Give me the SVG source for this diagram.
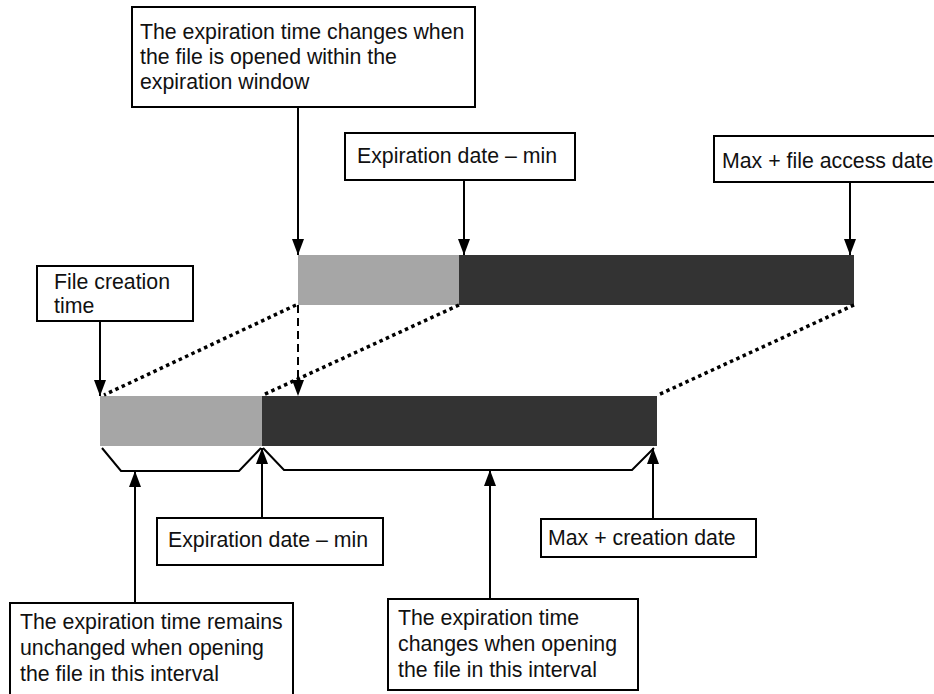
<svg xmlns="http://www.w3.org/2000/svg" width="934" height="694" viewBox="0 0 934 694">
<defs>
<marker id="ah" viewBox="0 0 16 12" refX="16" refY="6" markerWidth="16" markerHeight="12" markerUnits="userSpaceOnUse" orient="auto">
<path d="M0,0 L16,6 L0,12 Z" fill="#000"/>
</marker>
</defs>
<style>
.box{fill:#fff;stroke:#000;stroke-width:2}
.t{font-family:"Liberation Sans",Arial,sans-serif;font-size:21.3px;fill:#111}
.ln{stroke:#000;stroke-width:2;fill:none}
.dot{stroke:#000;stroke-width:3.5;stroke-dasharray:3.5 3.5;fill:none}
.dash{stroke:#000;stroke-width:2;stroke-dasharray:8 5;fill:none}
.light{fill:#a6a6a6}
.dark{fill:#333333}
</style>
<g id="bars">
<rect class="light" x="298" y="255" width="161" height="50"/>
<rect class="dark" x="459" y="255" width="395" height="50"/>
<rect class="light" x="100" y="396" width="162" height="50"/>
<rect class="dark" x="262" y="396" width="395" height="50"/>
</g>
<g id="connectors">
<line class="dot" x1="296" y1="305" x2="104" y2="395"/>
<line class="dot" x1="459" y1="305" x2="263" y2="395"/>
<line class="dot" x1="854" y1="305" x2="658" y2="395"/>
<line class="dash" x1="298" y1="305" x2="298" y2="396" marker-end="url(#ah)"/>
<polyline class="ln" points="102,448 121,471 239,471 261,448"/>
<polyline class="ln" points="263,448 284,470 632,470 654,448"/>
<line class="ln" x1="298" y1="107" x2="298" y2="255" marker-end="url(#ah)"/>
<line class="ln" x1="464" y1="180" x2="464" y2="255" marker-end="url(#ah)"/>
<line class="ln" x1="850" y1="182" x2="850" y2="255" marker-end="url(#ah)"/>
<line class="ln" x1="100" y1="321" x2="100" y2="396" marker-end="url(#ah)"/>
<line class="ln" x1="135" y1="603" x2="135" y2="471" marker-end="url(#ah)"/>
<line class="ln" x1="262" y1="518" x2="262" y2="448" marker-end="url(#ah)"/>
<line class="ln" x1="490" y1="599" x2="490" y2="470" marker-end="url(#ah)"/>
<line class="ln" x1="653" y1="519" x2="653" y2="448" marker-end="url(#ah)"/>
</g>
<g id="n-top">
<rect class="box" x="132" y="7" width="343" height="100"/>
<text class="t" x="140" y="39">The expiration time changes when</text>
<text class="t" x="140" y="64">the file is opened within the</text>
<text class="t" x="140" y="89">expiration window</text>
</g>
<g id="n-expmin-top">
<rect class="box" x="345" y="133" width="230" height="47"/>
<text class="t" x="357" y="163">Expiration date – min</text>
</g>
<g id="n-max-access">
<rect class="box" x="714" y="136" width="230" height="46"/>
<text class="t" x="722" y="168">Max + file access date</text>
</g>
<g id="n-creation">
<rect class="box" x="37" y="266" width="156" height="55"/>
<text class="t" x="54" y="289">File creation</text>
<text class="t" x="54" y="313">time</text>
</g>
<g id="n-expmin-bottom">
<rect class="box" x="157" y="518" width="226" height="47"/>
<text class="t" x="168" y="547">Expiration date – min</text>
</g>
<g id="n-max-creation">
<rect class="box" x="541" y="519" width="215" height="38"/>
<text class="t" x="548" y="545">Max + creation date</text>
</g>
<g id="n-unchanged">
<rect class="box" x="10" y="603" width="283" height="100"/>
<text class="t" x="20" y="629">The expiration time remains</text>
<text class="t" x="20" y="655">unchanged when opening</text>
<text class="t" x="20" y="681">the file in this interval</text>
</g>
<g id="n-changes">
<rect class="box" x="388" y="599" width="250" height="91"/>
<text class="t" x="398" y="625">The expiration time</text>
<text class="t" x="398" y="651">changes when opening</text>
<text class="t" x="398" y="677">the file in this interval</text>
</g>
</svg>
